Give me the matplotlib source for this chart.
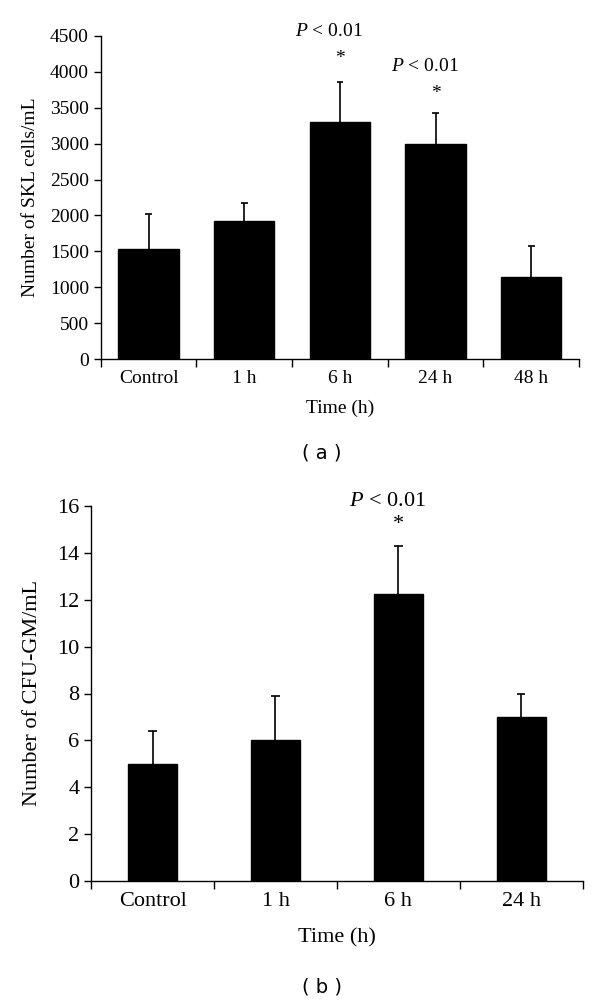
import matplotlib
matplotlib.use("Agg")
import matplotlib.pyplot as plt
import numpy as np

# panel (a): SKL cells
skl_groups = ["Control", "1 h", "6 h", "24 h", "48 h"]
skl_mean = [1530, 1930, 3300, 3000, 1150]
skl_err = [490, 240, 560, 430, 430]
skl_sig = [2, 3]

# panel (b): CFU-GM
cfu_groups = ["Control", "1 h", "6 h", "24 h"]
cfu_mean = [5.0, 6.0, 12.25, 7.0]
cfu_err = [1.42, 1.9, 2.05, 1.0]
cfu_sig = [2]

plt.rcParams['font.family'] = ['Liberation Serif', 'DejaVu Serif']
plt.rcParams['mathtext.fontset'] = 'custom'
plt.rcParams['mathtext.rm'] = 'Liberation Serif'
plt.rcParams['mathtext.it'] = 'Liberation Serif:italic'


def bar_panel(ax, groups, mean, err, width, fs, ylim, yticks):
    x = np.arange(len(groups))
    top = np.array(mean) + np.array(err)
    ax.bar(x, mean, width=width, color="black", edgecolor="black", zorder=2)
    # upper error bars only
    ax.vlines(x, mean, top, color="black", lw=1.2, zorder=1)
    ax.hlines(top, x - 0.035, x + 0.035, color="black", lw=1.2, zorder=1)
    ax.set_xlim(-0.5, len(groups) - 0.5)
    ax.set_ylim(*ylim)
    ax.set_yticks(yticks)
    ax.set_xticks(x)
    ax.set_xticklabels(groups, fontsize=fs)
    ax.set_xticks(np.arange(len(groups) + 1) - 0.5, minor=True)
    ax.tick_params(axis="x", which="major", length=0, pad=8)
    ax.tick_params(axis="x", which="minor", length=6, width=1, direction="out")
    ax.tick_params(axis="y", labelsize=fs, length=5, width=1, direction="out")
    for s in ["top", "right"]:
        ax.spines[s].set_visible(False)
    ax.spines["left"].set_linewidth(1)
    ax.spines["bottom"].set_linewidth(1)


fig = plt.figure(figsize=(6, 10), dpi=100)

ax1 = fig.add_axes([0.168, 0.6407, 0.797, 0.3236])
bar_panel(ax1, skl_groups, skl_mean, skl_err, 0.63, 14, (0, 4500), range(0, 4501, 500))
ax1.set_ylabel("Number of SKL cells/mL", fontsize=14, labelpad=8)
ax1.set_xlabel("Time (h)", fontsize=14, labelpad=9)
for i, (py, sy) in zip(skl_sig, [(4556, 4180), (4070, 3690)]):
    ax1.text(i - 0.11, py, "$\\mathit{P}$ < 0.01", ha="center", va="center", fontsize=14, clip_on=False)
    ax1.text(i, sy, "*", ha="center", va="center", fontsize=14, clip_on=False)

ax2 = fig.add_axes([0.152, 0.119, 0.819, 0.375])
bar_panel(ax2, cfu_groups, cfu_mean, cfu_err, 0.40, 16, (0, 16), range(0, 17, 2))
ax2.set_ylabel("Number of CFU-GM/mL", fontsize=16, labelpad=11)
ax2.set_xlabel("Time (h)", fontsize=16, labelpad=12)
for i in cfu_sig:
    ax2.text(i - 0.085, 16.2, "$\\mathit{P}$ < 0.01", ha="center", va="center", fontsize=16, clip_on=False)
    ax2.text(i, 15.2, "*", ha="center", va="center", fontsize=16, clip_on=False)

fig.text(0.537, 0.547, "( a )", ha="center", va="center", fontsize=14, family="DejaVu Sans")
fig.text(0.537, 0.013, "( b )", ha="center", va="center", fontsize=14, family="DejaVu Sans")

fig.savefig("out.png", dpi=100, facecolor="white")
